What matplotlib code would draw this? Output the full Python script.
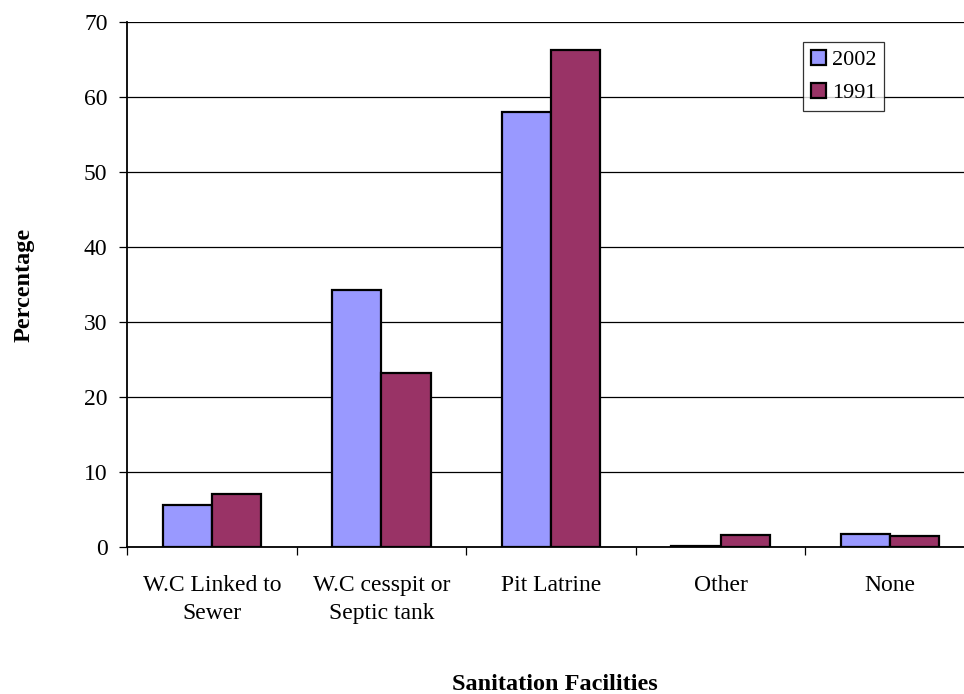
import numpy as np
import matplotlib.pyplot as plt

plt.rcParams['font.family'] = ['Liberation Serif', 'DejaVu Serif']

# data
categories = ['W.C Linked to\nSewer', 'W.C cesspit or\nSeptic tank', 'Pit Latrine', 'Other', 'None']
series_names = ['2002', '1991']
values_2002 = [5.6, 34.3, 58.0, 0.2, 1.8]
values_1991 = [7.1, 23.2, 66.3, 1.55, 1.45]

fig = plt.figure(figsize=(9.64, 6.94), dpi=100)
ax = fig.add_axes([0.1317, 0.2118, 0.8797, 0.7565])

x = np.arange(len(categories))
w = 0.29
ax.bar(x - w / 2, values_2002, w, color='#9999FF', edgecolor='black', linewidth=1.6,
       label=series_names[0], zorder=3)
ax.bar(x + w / 2, values_1991, w, color='#993366', edgecolor='black', linewidth=1.6,
       label=series_names[1], zorder=3)

ax.set_xlim(-0.5, len(categories) - 0.5)
ax.set_ylim(0, 70)
ax.set_yticks(range(0, 71, 10))
ax.yaxis.grid(True, color='black', linewidth=0.9)
ax.set_axisbelow(True)

# category labels centred, tick marks between categories
ax.set_xticks(x)
ax.set_xticklabels(categories, fontsize=17, linespacing=1.45)
ax.tick_params(axis='x', length=0, pad=20)
ax.set_xticks(np.arange(-0.5, len(categories)), minor=True)
ax.tick_params(axis='x', which='minor', length=6, width=0.9, direction='out')
ax.tick_params(axis='y', labelsize=17, length=6, width=0.9, pad=8)

for side in ['top', 'right']:
    ax.spines[side].set_visible(False)
ax.spines['left'].set_linewidth(1.3)
ax.spines['bottom'].set_linewidth(1.3)

fig.text(24 / 964, 1 - 285 / 694, 'Percentage', rotation=90, fontsize=17.5,
         fontweight='bold', ha='center', va='center')
fig.text(555 / 964, 1 - 685 / 694, 'Sanitation Facilities', fontsize=17.5,
         fontweight='bold', ha='center', va='center')

leg = ax.legend(loc='upper left', bbox_to_anchor=(0.797, 0.962), fontsize=16,
                frameon=True, fancybox=False, edgecolor='black', handlelength=0.7,
                handleheight=0.7, handletextpad=0.25, borderpad=0.35, labelspacing=0.55,
                borderaxespad=0)
leg.get_frame().set_linewidth(0.9)

fig.savefig('out.png', dpi=100)
